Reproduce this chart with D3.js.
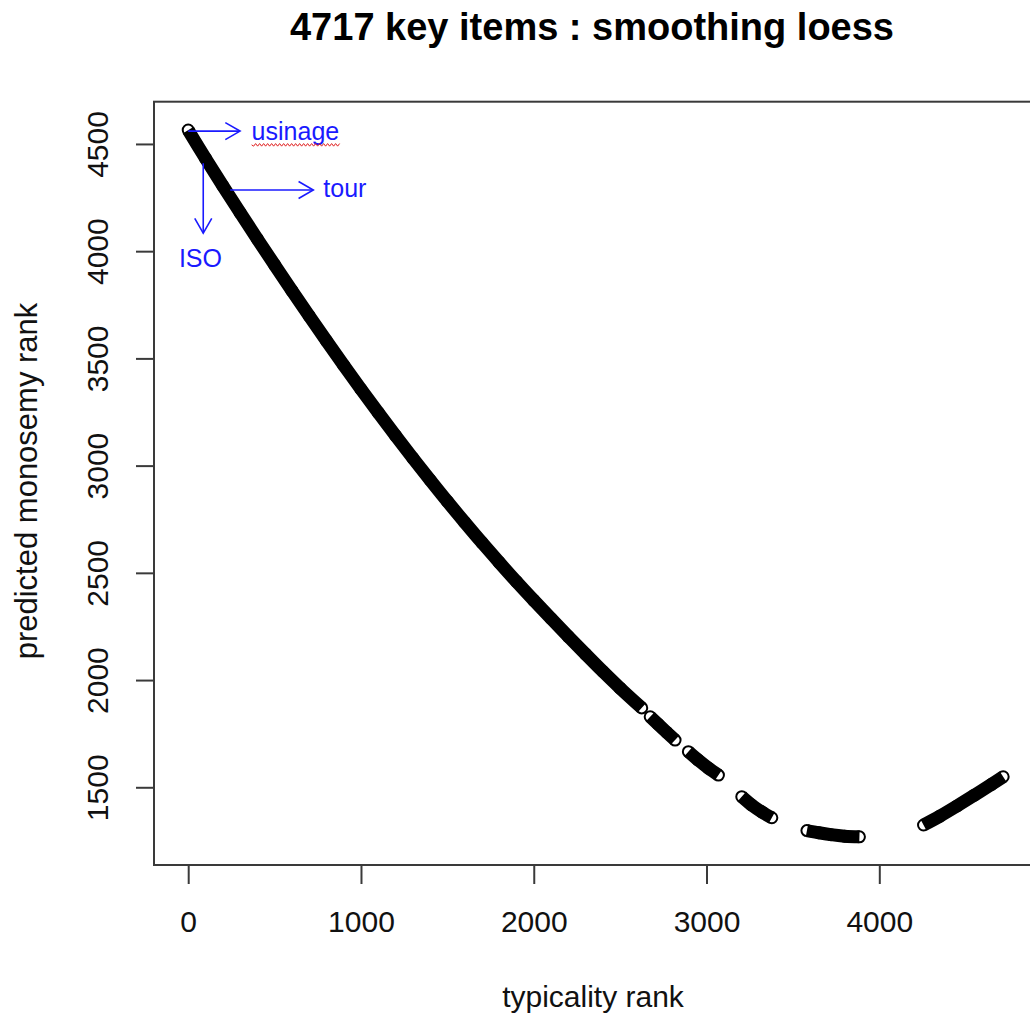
<!DOCTYPE html>
<html>
<head>
<meta charset="utf-8">
<script src="https://cdn.jsdelivr.net/npm/d3@7"></script>
<style>
body { margin: 0; background: #fff; }
text { font-family: "Liberation Sans", Arial, sans-serif; }
</style>
</head>
<body>
<div id="chart"></div>
<script>
// typicality rank (x) and loess predicted monosemy rank (y)
// the ranks come in runs with gaps between them
var rank1 = [0, 100, 200, 300, 400, 500, 600, 700, 800, 900, 1000, 1100, 1200, 1300,
    1400, 1500, 1600, 1700, 1800, 1900, 2000, 2100, 2200, 2300, 2400, 2500, 2625];
var pred1 = [4565, 4433, 4305, 4180, 4057, 3936, 3816, 3698, 3582, 3468, 3356, 3247, 3140, 3035,
    2933, 2833, 2736, 2641, 2549, 2459, 2372, 2287, 2203, 2121, 2040, 1962, 1870];

var rank2 = [2674, 2720, 2770, 2818];
var pred2 = [1829, 1794, 1756, 1720];

var rank3 = [2895, 2950, 3010, 3069];
var pred3 = [1666, 1628, 1590, 1557];

var rank4 = [3204, 3260, 3320, 3378];
var pred4 = [1456, 1418, 1385, 1358];

var rank5 = [3581, 3650, 3720, 3800, 3885];
var pred5 = [1298, 1288, 1279, 1272, 1269];

var rank6 = [4256, 4350, 4450, 4550, 4650, 4717];
var pred6 = [1324, 1365, 1413, 1463, 1514, 1549];

var xTicks = [0, 1000, 2000, 3000, 4000];
var yTicks = [1500, 2000, 2500, 3000, 3500, 4000, 4500];

// labelled items : arrow from (x0,y0) to (x1,y1), label at (tx,ty)
var notes = [
    { label: "usinage", x0: 0, y0: 4560, x1: 300, y1: 4560, tx: 367, ty: 4519, anchor: "start", squiggle: true },
    { label: "tour", x0: 243, y0: 4285, x1: 724, y1: 4285, tx: 782, ty: 4254, anchor: "start" },
    { label: "ISO", x0: 87, y0: 4410, x1: 87, y1: 4084, tx: 71, ty: 3928, anchor: "middle" }
];

var width = 1030,
    height = 1020;

var runs = [[rank1, pred1], [rank2, pred2], [rank3, pred3], [rank4, pred4], [rank5, pred5], [rank6, pred6]]
    .map(function (r) {
        return r[0].map(function (v, i) { return [v, r[1][i]]; });
    });

var x = d3.scaleLinear()
    .domain([-198, 4907])
    .range([154, 1036]);

var y = d3.scaleLinear()
    .domain([1137.6, 4697])
    .range([865, 101.7]);

var svg = d3.select("#chart")
    .append("svg")
    .attr("width", width)
    .attr("height", height)
    .style("background", "#fff");

// title
svg.append("text")
    .attr("x", 592)
    .attr("y", 40)
    .attr("text-anchor", "middle")
    .style("font-size", "38px")
    .style("font-weight", "bold")
    .text("4717 key items : smoothing loess");

// points : the ranks are so dense that the circles merge into a thick band
var line = d3.line()
    .x(function (d) { return x(d[0]); })
    .y(function (d) { return y(d[1]); })
    .curve(d3.curveCatmullRom);

svg.append("g")
    .selectAll("path")
    .data(runs)
    .enter().append("path")
    .attr("d", line)
    .attr("fill", "none")
    .attr("stroke", "#000")
    .attr("stroke-width", 13)
    .attr("stroke-linecap", "butt");

svg.append("g")
    .selectAll("circle")
    .data(d3.merge(runs))
    .enter().append("circle")
    .attr("cx", function (d) { return x(d[0]); })
    .attr("cy", function (d) { return y(d[1]); })
    .attr("r", 5.5)
    .attr("fill", "none")
    .attr("stroke", "#000")
    .attr("stroke-width", 2);

// axes
var xAxis = svg.append("g")
    .attr("transform", "translate(0,865)")
    .call(d3.axisBottom(x).tickValues(xTicks).tickFormat(d3.format("d")).tickSize(19).tickPadding(27));

var yAxis = svg.append("g")
    .attr("transform", "translate(154,0)")
    .call(d3.axisLeft(y).tickValues(yTicks).tickFormat(d3.format("d")).tickSize(18));

[xAxis, yAxis].forEach(function (a) {
    a.select(".domain").remove();
    a.selectAll(".tick line").attr("stroke", "#3a3a3a").attr("stroke-width", 2);
    a.selectAll(".tick text")
        .attr("fill", "#111")
        .style("font-size", "30px")
        .style("font-family", "'Liberation Sans', Arial, sans-serif");
});

yAxis.selectAll(".tick text")
    .attr("x", 0)
    .attr("dy", 0)
    .attr("text-anchor", "middle")
    .attr("transform", "translate(-46,0) rotate(-90)");

// box
svg.append("rect")
    .attr("x", 154)
    .attr("y", 101.7)
    .attr("width", 890)
    .attr("height", 763.3)
    .attr("fill", "none")
    .attr("stroke", "#3a3a3a")
    .attr("stroke-width", 2);

// axis titles
svg.append("text")
    .attr("x", 593)
    .attr("y", 1007)
    .attr("text-anchor", "middle")
    .style("font-size", "30px")
    .attr("fill", "#111")
    .text("typicality rank");

svg.append("text")
    .attr("transform", "translate(37,481) rotate(-90)")
    .attr("text-anchor", "middle")
    .style("font-size", "31px")
    .attr("fill", "#111")
    .text("predicted monosemy rank");

// annotations
var blue = "#1a1aff";
var ann = svg.append("g");

notes.forEach(function (n) {
    var ax = x(n.x0), ay = y(n.y0), bx = x(n.x1), by = y(n.y1);
    var ang = Math.atan2(by - ay, bx - ax);
    var len = 17, spread = Math.PI / 6;
    ann.append("line")
        .attr("x1", ax).attr("y1", ay)
        .attr("x2", bx).attr("y2", by)
        .attr("stroke", blue).attr("stroke-width", 1.6);
    ann.append("path")
        .attr("d", "M" + (bx - len * Math.cos(ang - spread)) + "," + (by - len * Math.sin(ang - spread)) +
            "L" + bx + "," + by +
            "L" + (bx - len * Math.cos(ang + spread)) + "," + (by - len * Math.sin(ang + spread)))
        .attr("fill", "none")
        .attr("stroke", blue).attr("stroke-width", 1.6);
    var t = ann.append("text")
        .attr("x", x(n.tx))
        .attr("y", y(n.ty))
        .attr("text-anchor", n.anchor)
        .attr("fill", blue)
        .style("font-size", "25px")
        .text(n.label);
    if (n.squiggle) {
        // red spell-check underline seen under this word
        var b = t.node().getBBox();
        var yy = y(n.ty) + 5, d = "M" + b.x + "," + yy;
        for (var k = 0, px = b.x; px < b.x + b.width; k++) {
            px += 2;
            d += "L" + px + "," + (yy + (k % 2 ? -1.3 : 1.3));
        }
        ann.append("path")
            .attr("d", d)
            .attr("fill", "none")
            .attr("stroke", "#e02020")
            .attr("stroke-width", 1);
    }
});
</script>
</body>
</html>
